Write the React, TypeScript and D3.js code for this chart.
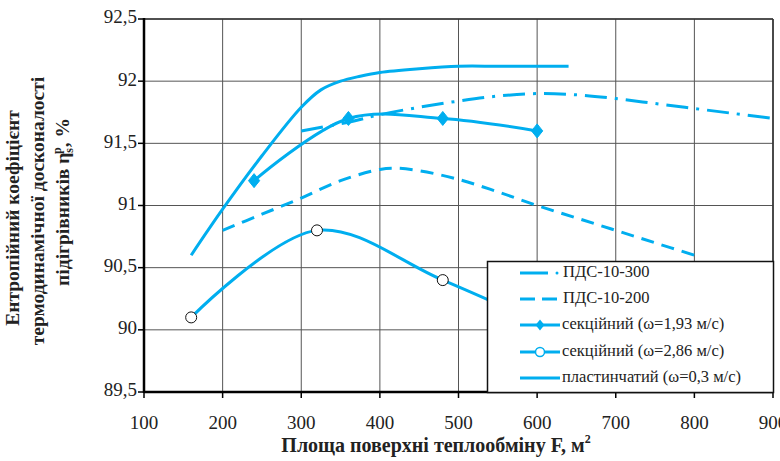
import React from "react";
import * as d3 from "d3";

const xTicks = [100, 200, 300, 400, 500, 600, 700, 800, 900];
const yTicks = [89.5, 90, 90.5, 91, 91.5, 92, 92.5];

const pds300X = [300, 360, 400, 450, 500, 550, 600, 650, 700, 750, 800, 850, 900];
const pds300Y = [91.6, 91.67, 91.73, 91.79, 91.84, 91.88, 91.9, 91.89, 91.86, 91.82, 91.78, 91.74, 91.7];

const pds200X = [200, 250, 300, 350, 400, 420, 450, 500, 550, 600, 650, 700, 750, 800];
const pds200Y = [90.8, 90.93, 91.06, 91.2, 91.29, 91.3, 91.28, 91.21, 91.11, 91.0, 90.9, 90.8, 90.7, 90.6];

const sec193X = [240, 360, 480, 600];
const sec193Y = [91.2, 91.7, 91.7, 91.6];

const sec286X = [160, 320, 480, 640];
const sec286Y = [90.1, 90.8, 90.4, 89.95];

const plastX = [160, 200, 250, 300, 325, 350, 375, 400, 450, 500, 550, 600, 640];
const plastY = [90.6, 90.97, 91.4, 91.79, 91.93, 92.0, 92.04, 92.07, 92.1, 92.12, 92.12, 92.12, 92.12];

const legendLabels = [
  "ПДС-10-300",
  "ПДС-10-200",
  "секційний (ω=1,93 м/с)",
  "секційний (ω=2,86 м/с)",
  "пластинчатий (ω=0,3 м/с)",
];

const COLOR = "#00aeef";
const FONT = "'Liberation Serif', 'Times New Roman', serif";

export default function App() {
  const x = d3.scaleLinear().domain([100, 900]).range([144, 773]);
  const y = d3.scaleLinear().domain([89.5, 92.5]).range([392, 19]);

  const zip = (xs: number[], ys: number[]) => xs.map((v, i) => [v, ys[i]] as [number, number]);
  const smooth = d3
    .line<[number, number]>()
    .x((d) => x(d[0]))
    .y((d) => y(d[1]))
    .curve(d3.curveCatmullRom.alpha(0.5));

  const pds300 = zip(pds300X, pds300Y);
  const pds200 = zip(pds200X, pds200Y);
  const sec193 = zip(sec193X, sec193Y);
  const sec286 = zip(sec286X, sec286Y);
  const plast = zip(plastX, plastY);

  const diamond = (cx: number, cy: number, r: number) =>
    `M${cx},${cy - r}L${cx + r * 0.8},${cy}L${cx},${cy + r}L${cx - r * 0.8},${cy}Z`;

  const lx0 = 520, lx1 = 560, ltx = 562;
  const ly = [273, 299, 325, 352, 378];

  return (
    <svg width={780} height={461} style={{ position: "absolute", left: 0, top: 0, background: "#fff" }} fontFamily={FONT}>
      <rect x={0} y={0} width={780} height={461} fill="#fff" />
      {/* grid */}
      {xTicks.map((t) => (
        <line key={"gx" + t} x1={x(t)} x2={x(t)} y1={y(92.5)} y2={y(89.5)} stroke="#555" strokeWidth={1} />
      ))}
      {yTicks.map((t) => (
        <line key={"gy" + t} x1={x(100)} x2={x(900)} y1={y(t)} y2={y(t)} stroke="#555" strokeWidth={1} />
      ))}
      {/* frame */}
      <line x1={x(100)} x2={x(900)} y1={y(92.5)} y2={y(92.5)} stroke="#333" strokeWidth={1.6} />
      <line x1={x(900)} x2={x(900)} y1={y(92.5)} y2={y(89.5)} stroke="#333" strokeWidth={1.6} />

      {/* series */}
      <path d={smooth(pds300) || ""} fill="none" stroke={COLOR} strokeWidth={3} strokeDasharray="22,8,3,8" />
      <path d={smooth(pds200) || ""} fill="none" stroke={COLOR} strokeWidth={3} strokeDasharray="13,8" />
      <path d={smooth(plast) || ""} fill="none" stroke={COLOR} strokeWidth={3} />
      <path d={smooth(sec193) || ""} fill="none" stroke={COLOR} strokeWidth={3} />
      {sec193.map((d, i) => (
        <path key={"dm" + i} d={diamond(x(d[0]), y(d[1]), 7)} fill={COLOR} stroke={COLOR} strokeWidth={1} />
      ))}
      <path d={smooth(sec286) || ""} fill="none" stroke={COLOR} strokeWidth={3} />
      {sec286.slice(0, 3).map((d, i) => (
        <circle key={"ci" + i} cx={x(d[0])} cy={y(d[1])} r={5.5} fill="#fff" stroke="#111" strokeWidth={1} />
      ))}

      {/* axes */}
      <line x1={x(100)} x2={x(100)} y1={y(92.5) - 1} y2={y(89.5) + 1} stroke="#000" strokeWidth={2.5} />
      <line x1={x(100)} x2={x(900)} y1={y(89.5)} y2={y(89.5)} stroke="#000" strokeWidth={2.5} />
      {yTicks.map((t) => (
        <g key={"yt" + t}>
          <line x1={x(100) - 6} x2={x(100)} y1={y(t)} y2={y(t)} stroke="#000" strokeWidth={1.5} />
          <text x={x(100) - 7} y={y(t)} textAnchor="end" dominantBaseline="middle" fontSize={19} fill="#222">
            {String(t).replace(".", ",")}
          </text>
        </g>
      ))}
      {xTicks.map((t) => (
        <g key={"xt" + t}>
          <line x1={x(t)} x2={x(t)} y1={y(89.5)} y2={y(89.5) + 6} stroke="#000" strokeWidth={1.5} />
          <text x={x(t)} y={425} textAnchor="middle" dominantBaseline="middle" fontSize={19} fill="#222">
            {t}
          </text>
        </g>
      ))}

      {/* legend */}
      <rect x={487.5} y={261.5} width={286} height={131} fill="#fff" stroke="#111" strokeWidth={1.5} />
      <line x1={lx0} x2={548} y1={ly[0]} y2={ly[0]} stroke={COLOR} strokeWidth={3} />
      <circle cx={557} cy={ly[0]} r={1.5} fill={COLOR} />
      <line x1={lx0} x2={lx1} y1={ly[1]} y2={ly[1]} stroke={COLOR} strokeWidth={3} strokeDasharray="15,7" />
      <line x1={lx0} x2={lx1} y1={ly[2]} y2={ly[2]} stroke={COLOR} strokeWidth={3} />
      <path d={diamond(540, ly[2], 5.5)} fill={COLOR} />
      <line x1={lx0} x2={lx1} y1={ly[3]} y2={ly[3]} stroke={COLOR} strokeWidth={3} />
      <circle cx={540} cy={ly[3]} r={4.5} fill="#fff" stroke={COLOR} strokeWidth={1.5} />
      <line x1={lx0} x2={lx1} y1={ly[4]} y2={ly[4]} stroke={COLOR} strokeWidth={3} />
      {legendLabels.map((l, i) => (
        <text key={l} x={i < 2 ? ltx + 1 : ltx} y={ly[i]} dominantBaseline="middle" fontSize={16.5} fill="#222">
          {l}
        </text>
      ))}

      {/* axis titles */}
      <text x={436} y={447} textAnchor="middle" dominantBaseline="middle" fontSize={20} fontWeight="bold" fill="#222">
        Площа поверхні теплообміну F, м<tspan fontSize={12} dy={-7}>2</tspan>
      </text>
      <g transform="translate(15,218) rotate(-90)">
        <text x={0} y={0} textAnchor="middle" dominantBaseline="middle" fontSize={19.5} fontWeight="bold" fill="#222">
          Ентропійний коефіцієнт
        </text>
      </g>
      <g transform="translate(40,211) rotate(-90)">
        <text x={0} y={0} textAnchor="middle" dominantBaseline="middle" fontSize={19.5} fontWeight="bold" fill="#222">
          термодинамічної досконалості
        </text>
      </g>
      <g transform="translate(65,202) rotate(-90)">
        <text x={0} y={0} textAnchor="middle" dominantBaseline="middle" fontSize={19.5} fontWeight="bold" fill="#222">
          підігрівників η<tspan fontSize={12} dy={5}>s</tspan>
          <tspan fontSize={12} dx={-6} dy={-12}>p</tspan>
          <tspan dy={7}>, %</tspan>
        </text>
      </g>
    </svg>
  );
}
